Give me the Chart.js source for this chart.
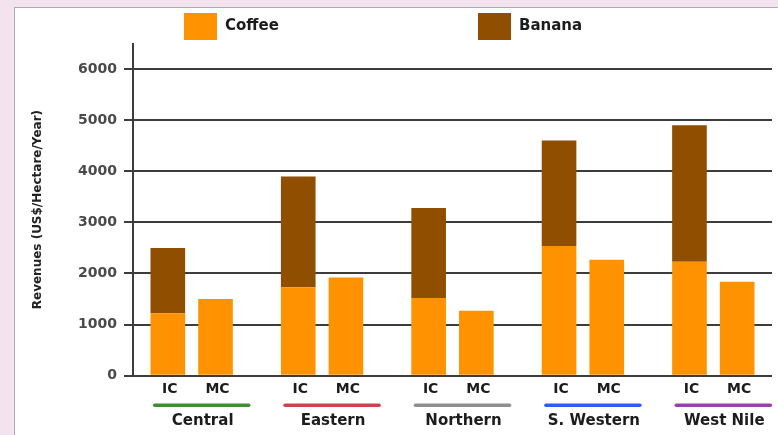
<!DOCTYPE html>
<html>
<head>
<meta charset="utf-8">
<script src="https://cdn.jsdelivr.net/npm/chart.js@4"></script>
<style>
  html, body { margin: 0; padding: 0; width: 778px; height: 435px; overflow: hidden; background: #f2e3ee; }
  #panel { position: absolute; left: 14px; top: 7px; width: 763px; height: 427px; background: #ffffff;
           border-left: 1px solid #b3aab1; border-top: 1px solid #b3aab1; }
  canvas { display: block; }
</style>
</head>
<body>
<div id="panel"><canvas id="chart" width="763" height="427"></canvas></div>
<script>
// Regions and cropping systems (IC = intercropped, MC = mono-cropped)
const regions = ['Central', 'Eastern', 'Northern', 'S. Western', 'West Nile'];
const systems = ['IC', 'MC'];

// Revenues in US$/hectare/year
const coffeeIC = [1220, 1730, 1520, 2540, 2230];
const bananaIC = [1280, 2170, 1760, 2060, 2670];
const coffeeMC = [1500, 1920, 1270, 2270, 1840];

// Value axis
const yTicks = [0, 1000, 2000, 3000, 4000, 5000, 6000];
const yMax = 6500;

const regionColors = ['#3f8f2f', '#d2404e', '#8e8e8e', '#2f5cf2', '#9c3fae'];
const coffeeColor = '#ff9200';
const bananaColor = '#904e00';

Chart.defaults.font.family = '"DejaVu Sans", sans-serif';

const toPoints = vals => vals.map((v, i) => ({ x: i, y: v }));

// Region labels, IC/MC labels and coloured underlines beneath the bars
const groupLabels = {
  id: 'groupLabels',
  afterDatasetsDraw(chart) {
    const { ctx, chartArea, scales: { x } } = chart;
    const metas = [chart.getDatasetMeta(0), chart.getDatasetMeta(2)];
    ctx.save();
    ctx.textAlign = 'center';
    ctx.textBaseline = 'middle';
    regions.forEach((name, i) => {
      ctx.fillStyle = '#1c1c1c';
      ctx.font = 'bold 14px "DejaVu Sans"';
      metas.forEach((m, k) => {
        const bar = m.data[i];
        ctx.fillText(systems[k], bar.x + 2, chartArea.bottom + 14);
      });
      const c = x.getPixelForValue(i);
      ctx.strokeStyle = regionColors[i];
      ctx.lineWidth = 3.5;
      ctx.lineCap = 'round';
      ctx.beginPath();
      ctx.moveTo(c - 37, chartArea.bottom + 29.5);
      ctx.lineTo(c + 57, chartArea.bottom + 29.5);
      ctx.stroke();
      ctx.fillStyle = '#1c1c1c';
      ctx.font = 'bold 15px "DejaVu Sans"';
      ctx.fillText(name, c + 11, chartArea.bottom + 45.5);
    });
    ctx.restore();
  }
};

// Legend row at the top: one swatch per crop
const topLegend = {
  id: 'topLegend',
  afterDraw(chart, args, opts) {
    const { ctx } = chart;
    ctx.save();
    ctx.textAlign = 'left';
    ctx.textBaseline = 'middle';
    ctx.font = 'bold 15px "DejaVu Sans"';
    opts.datasetIndexes.forEach((di, n) => {
      const ds = chart.data.datasets[di];
      const left = opts.x[n];
      ctx.fillStyle = ds.backgroundColor;
      ctx.fillRect(left, opts.y, opts.boxWidth, opts.boxHeight);
      ctx.fillStyle = '#1c1c1c';
      ctx.fillText(ds.label, left + opts.boxWidth + opts.gap, opts.y + opts.boxHeight / 2);
    });
    ctx.restore();
  }
};

new Chart(document.getElementById('chart'), {
  type: 'bar',
  data: {
    datasets: [
      { label: 'Coffee', stack: 'IC', data: toPoints(coffeeIC), backgroundColor: coffeeColor },
      { label: 'Banana', stack: 'IC', data: toPoints(bananaIC), backgroundColor: bananaColor },
      { label: 'Coffee', stack: 'MC', data: toPoints(coffeeMC), backgroundColor: coffeeColor }
    ]
  },
  options: {
    responsive: false,
    animation: false,
    events: [],
    layout: { padding: { left: 0, right: 6, top: 35.5, bottom: 59.3 } },
    datasets: { bar: { categoryPercentage: 0.813, barPercentage: 0.726, borderWidth: 0 } },
    plugins: {
      legend: { display: false },
      tooltip: { enabled: false },
      topLegend: { datasetIndexes: [0, 1], x: [169, 463], y: 5, boxWidth: 33, boxHeight: 27, gap: 8 }
    },
    scales: {
      x: {
        type: 'linear',
        display: false,
        offset: false,
        min: -0.45,
        max: regions.length - 0.55,
        bounds: 'data',
        ticks: { stepSize: 1, includeBounds: false }
      },
      y: {
        stacked: true,
        min: 0,
        max: yMax,
        bounds: 'data',
        afterFit(scale) { scale.width = 118; },
        afterBuildTicks(scale) { scale.ticks = yTicks.map(v => ({ value: v })); },
        ticks: {
          padding: 7,
          color: '#4a4a4a',
          font: { size: 14, weight: 'bold' },
          callback: v => String(v)
        },
        grid: { color: '#3c3c3c', lineWidth: 2, tickLength: 9, drawTicks: true },
        border: { display: true, color: '#3c3c3c', width: 2 },
        title: {
          display: true,
          text: 'Revenues (US$/Hectare/Year)',
          color: '#222222',
          font: { size: 12, weight: 'bold' },
          padding: { top: 15.3, bottom: 0 }
        }
      }
    }
  },
  plugins: [groupLabels, topLegend]
});
</script>
</body>
</html>
